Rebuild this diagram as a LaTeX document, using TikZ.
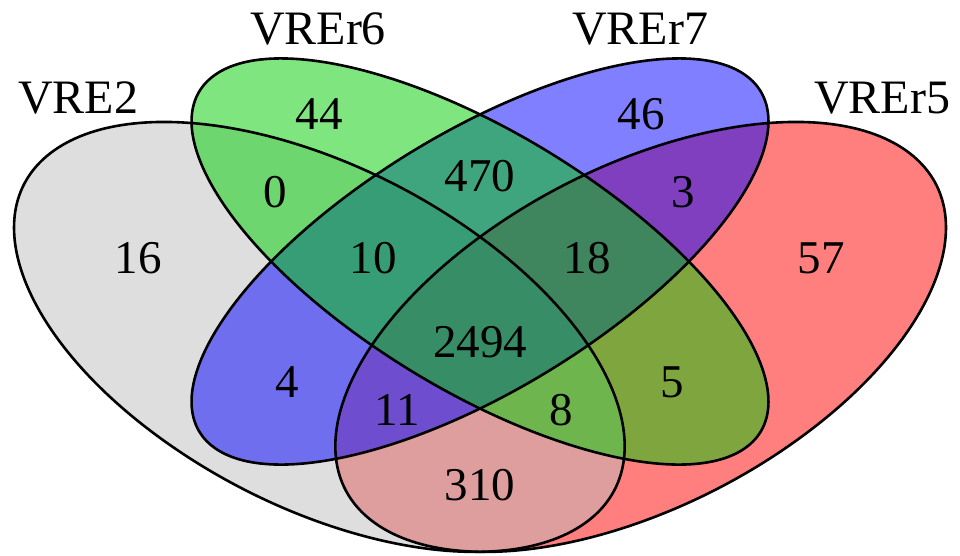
\documentclass[tikz,border=0pt]{standalone}
\usepackage{fontspec}
\setmainfont{Liberation Serif}
\definecolor{vgray}{RGB}{190,190,190}
\definecolor{vred}{RGB}{255,0,0}
\definecolor{vblue}{RGB}{0,0,255}
\definecolor{vgreen}{RGB}{0,205,0}
\begin{document}
\begin{tikzpicture}[x=1pt,y=1pt,
  lbl/.style={font=\fontsize{47}{50}\selectfont, inner sep=0pt, text=black},
  ttl/.style={font=\fontsize{48}{50}\selectfont, inner sep=0pt, text=black},
  setfill/.style={fill opacity=0.5},
  outline/.style={draw=black, line width=2.6pt}]
\useasboundingbox (0,0) rectangle (960,556);
\begin{scope}[shift={(-55.5,-135.3)}, xscale=1071, yscale=754]
  % fills (drawing order: red, gray, blue, green)
  \fill[vred, setfill, rotate around={45:(0.65,0.47)}] (0.65,0.47) ellipse [x radius=0.35, y radius=0.2];
  \fill[vgray, setfill, rotate around={-45:(0.35,0.47)}] (0.35,0.47) ellipse [x radius=0.35, y radius=0.2];
  \fill[vblue, setfill, rotate around={45:(0.5,0.57)}] (0.5,0.57) ellipse [x radius=0.35, y radius=0.15];
  \fill[vgreen, setfill, rotate around={-45:(0.5,0.57)}] (0.5,0.57) ellipse [x radius=0.35, y radius=0.15];
  % outlines
  \draw[outline, rotate around={45:(0.65,0.47)}] (0.65,0.47) ellipse [x radius=0.35, y radius=0.2];
  \draw[outline, rotate around={-45:(0.35,0.47)}] (0.35,0.47) ellipse [x radius=0.35, y radius=0.2];
  \draw[outline, rotate around={45:(0.5,0.57)}] (0.5,0.57) ellipse [x radius=0.35, y radius=0.15];
  \draw[outline, rotate around={-45:(0.5,0.57)}] (0.5,0.57) ellipse [x radius=0.35, y radius=0.15];
\end{scope}
% set titles
\node[ttl] (tA) at (78,458) {VRE2};
\node[ttl] (tB) at (318,527) {VREr6};
\node[ttl] (tC) at (640,527) {VREr7};
\node[ttl] (tD) at (882,458) {VREr5};
% region counts
\node[lbl] (n44) at (319,442) {44};
\node[lbl] (n46) at (641,442) {46};
\node[lbl] (n0) at (275,364) {0};
\node[lbl] (n3) at (683,364) {3};
\node[lbl] (n470) at (480,380) {470};
\node[lbl] (n16) at (138,298) {16};
\node[lbl] (n10) at (373,298) {10};
\node[lbl] (n18) at (587,298) {18};
\node[lbl] (n57) at (821,298) {57};
\node[lbl] (n2494) at (480,214) {2494};
\node[lbl] (n4) at (287,174) {4};
\node[lbl] (n5) at (672,174) {5};
\node[lbl] (n11) at (397,146) {11};
\node[lbl] (n8) at (561,146) {8};
\node[lbl] (n310) at (480,71) {310};
\end{tikzpicture}
\end{document}
